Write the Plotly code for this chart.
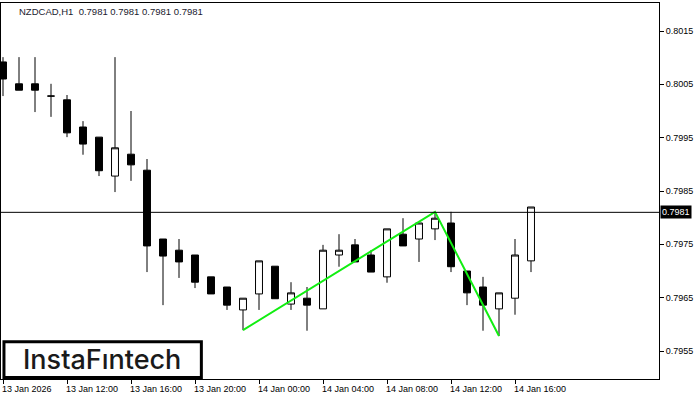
import plotly.graph_objects as go

# NZDCAD H1 candles, 13 Jan 08:00 -> 14 Jan 17:00
opens = [0.80092, 0.80051, 0.80051, 0.80028, 0.80021, 0.79970, 0.79951, 0.79878, 0.79919, 0.79889,
         0.79760, 0.79739, 0.79730, 0.79689, 0.79670, 0.79627, 0.79657, 0.79709, 0.79638, 0.79649,
         0.79629, 0.79730, 0.79749, 0.79730, 0.79689, 0.79769, 0.79760, 0.79779, 0.79790, 0.79700,
         0.79670, 0.79629, 0.79649, 0.79719]
highs = [0.80101, 0.80101, 0.80101, 0.80051, 0.80030, 0.79981, 0.79951, 0.80101, 0.80000, 0.79910,
         0.79760, 0.79760, 0.79730, 0.79689, 0.79670, 0.79649, 0.79719, 0.79709, 0.79679, 0.79670,
         0.79749, 0.79769, 0.79760, 0.79739, 0.79779, 0.79799, 0.79790, 0.79811, 0.79811, 0.79700,
         0.79689, 0.79659, 0.79760, 0.79820]
lows = [0.80028, 0.80039, 0.79998, 0.79989, 0.79951, 0.79918, 0.79878, 0.79848, 0.79869, 0.79698,
        0.79636, 0.79687, 0.79668, 0.79657, 0.79627, 0.79589, 0.79627, 0.79648, 0.79627, 0.79588,
        0.79629, 0.79708, 0.79717, 0.79698, 0.79678, 0.79747, 0.79717, 0.79758, 0.79698, 0.79636,
        0.79588, 0.79578, 0.79618, 0.79698]
closes = [0.80060, 0.80039, 0.80039, 0.80028, 0.79959, 0.79938, 0.79888, 0.79931, 0.79899, 0.79747,
          0.79728, 0.79717, 0.79679, 0.79657, 0.79636, 0.79649, 0.79719, 0.79648, 0.79659, 0.79636,
          0.79739, 0.79739, 0.79717, 0.79698, 0.79779, 0.79747, 0.79790, 0.79799, 0.79708, 0.79659,
          0.79636, 0.79659, 0.79730, 0.79820]

time_tick_idx = [0, 4, 8, 12, 16, 20, 24, 28, 32]
time_tick_text = ["13 Jan 2026", "13 Jan 12:00", "13 Jan 16:00", "13 Jan 20:00", "14 Jan 00:00",
                  "14 Jan 04:00", "14 Jan 08:00", "14 Jan 12:00", "14 Jan 16:00"]

price_ticks = [0.7955, 0.7965, 0.7975, 0.7985, 0.7995, 0.8005, 0.8015]
bid_price = 0.7981

# double top pattern points (candle index, price)
pattern_idx = [15, 27, 31]
pattern_price = [0.79589, 0.79811, 0.79578]

x = list(range(len(opens)))
font_ui = "Liberation Sans"

fig = go.Figure()

fig.add_trace(go.Candlestick(
    x=x, open=opens, high=highs, low=lows, close=closes,
    increasing=dict(line=dict(color="black", width=1), fillcolor="white"),
    decreasing=dict(line=dict(color="black", width=1), fillcolor="black"),
    hoverinfo="skip",
    showlegend=False,
))

fig.add_trace(go.Scatter(
    x=pattern_idx, y=pattern_price, mode="lines",
    line=dict(color="#11ee11", width=2),
    hoverinfo="skip", showlegend=False,
))

# bid line
fig.add_hline(y=bid_price, line=dict(color="black", width=1))

fig.update_layout(
    width=700, height=400,
    margin=dict(l=1, r=41, t=3, b=21),
    paper_bgcolor="white", plot_bgcolor="white",
    boxgap=0.38,
    xaxis=dict(
        range=[-0.125, 41.0],
        rangeslider=dict(visible=False),
        showgrid=False, zeroline=False,
        tickmode="array", tickvals=time_tick_idx, ticktext=[""] * len(time_tick_idx),
        ticks="outside", ticklen=4, tickcolor="black",
        showline=True, linecolor="black", linewidth=1, mirror=True,
    ),
    yaxis=dict(
        range=[0.794975, 0.802025],
        side="right",
        showgrid=False, zeroline=False,
        tickmode="array", tickvals=price_ticks,
        ticktext=[f"{v:.4f}" for v in price_ticks],
        ticks="outside", ticklen=4, tickcolor="black",
        tickfont=dict(family=font_ui, size=9, color="black"),
        showline=True, linecolor="black", linewidth=1, mirror=True,
    ),
)

# time labels, left aligned to their tick like MT4
for idx, txt in zip(time_tick_idx, time_tick_text):
    fig.add_annotation(
        x=idx, xref="x", y=0, yref="paper", text=txt, showarrow=False,
        xanchor="left", yanchor="top", xshift=-3, yshift=-3,
        font=dict(family=font_ui, size=9, color="black"),
    )

# bid price label
fig.add_annotation(
    x=1, xref="paper", y=bid_price, yref="y", text=f"{bid_price:.4f}", showarrow=False,
    xanchor="left", yanchor="middle", xshift=1,
    bgcolor="black", borderpad=1,
    font=dict(family=font_ui, size=9, color="white"),
)

# chart header
fig.add_annotation(
    x=0.025, xref="paper", y=1, yref="paper", showarrow=False,
    text="NZDCAD,H1  " + " ".join(f"{bid_price:.4f}" for _ in range(4)),
    xanchor="left", yanchor="top", yshift=-1,
    font=dict(family=font_ui, size=9.5, color="#1a1a2e"),
)

# logo box
fig.add_shape(
    type="rect", xref="paper", yref="paper",
    x0=0.0045, x1=0.3045, y0=0.004, y1=0.099,
    line=dict(color="black", width=3), fillcolor="white", layer="above",
)
fig.add_annotation(
    x=0.1535, xref="paper", y=0.051, yref="paper", text="InstaFıntech", showarrow=False,
    xanchor="center", yanchor="middle",
    font=dict(family="Inter", size=27, color="#1a1a1a", weight=500),
)

fig.write_html("out.html", config={"displayModeBar": False},
               post_script="document.body.style.margin='0';")
